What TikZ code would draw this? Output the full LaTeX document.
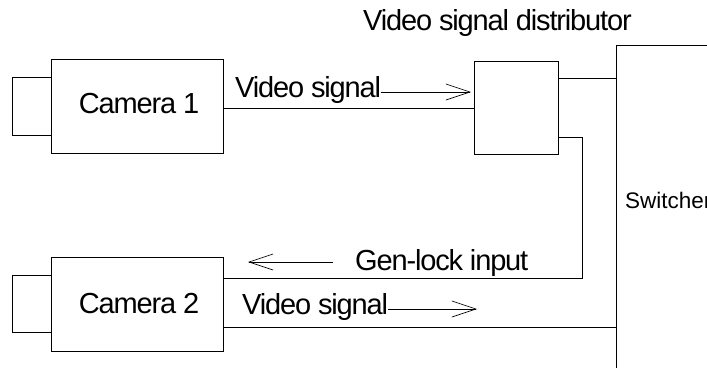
\documentclass[tikz,border=0pt]{standalone}
\usepackage{fontspec}
\setmainfont{Liberation Sans}
\usetikzlibrary{arrows.meta,calc}
\begin{document}
\begin{tikzpicture}[x=1pt,y=-1pt,
  box/.style={draw, line width=0.8pt, inner sep=0pt, outer sep=0pt},
  wire/.style={line width=0.8pt},
  sig/.style={line width=0.7pt, -{Straight Barb[length=24pt,width=16pt,line width=0.7pt]}},
  lbl/.style={font=\fontsize{29}{33}\selectfont\addfontfeature{LetterSpace=-4}, inner sep=0pt},
  slbl/.style={font=\fontsize{22.5}{26}\selectfont, inner sep=0pt}]
\useasboundingbox (0,0) rectangle (707,367);
\clip (0,0) rectangle (707,367);
% cameras
\node[box, minimum width=172pt, minimum height=94pt] (cam1) at (137,106) {};
\node[lbl] (cam1lbl) at (139,103.5) {Camera 1};
\node[box, minimum width=39pt, minimum height=58pt, anchor=east] (lens1) at (cam1.west) {};
\node[box, minimum width=172pt, minimum height=94pt] (cam2) at (137,304) {};
\node[lbl] (cam2lbl) at (139,303.5) {Camera 2};
\node[box, minimum width=39pt, minimum height=57pt, anchor=east] (lens2) at (cam2.west) {};
% distributor
\node[box, minimum width=84pt, minimum height=93pt] (dist) at (516,107.5) {};
\node[lbl, anchor=base west] (distlbl) at (363,30) {Video signal distributor};
% switcher
\node[box, minimum width=200pt, minimum height=400pt, anchor=north west] (sw) at (616,45) {};
\node[slbl, anchor=base west] (swlbl) at (625,208) {Switcher};
% wire levels
\coordinate (y1) at (0,108);
\coordinate (y2) at (0,78);
\coordinate (y3) at (0,137);
\coordinate (y4) at (0,278);
\coordinate (y5) at (0,327);
\coordinate (xb) at (582,0);
% wires
\draw[wire] (cam1.east |- y1) -- (dist.west |- y1);
\draw[wire] (dist.east |- y2) -- (sw.west |- y2);
\draw[wire] (dist.east |- y3) -| (xb |- y4) -- (cam2.east |- y4);
\draw[wire] (cam2.east |- y5) -- (sw.west |- y5);
% signal labels and arrows
\node[lbl, anchor=base west] (v1) at (235,97) {Video signal};
\coordinate (a1e) at (471,92);
\draw[sig] (v1.east |- a1e) -- (a1e);
\node[lbl, anchor=base west] (gl) at (355,270) {Gen-lock input};
\coordinate (a2s) at (333,262);
\coordinate (a2e) at (248,262);
\draw[sig] (a2s) -- (a2e);
\node[lbl, anchor=base west] (v2) at (242,314) {Video signal};
\coordinate (a3e) at (477,309);
\draw[sig] (v2.east |- a3e) -- (a3e);
\end{tikzpicture}
\end{document}
